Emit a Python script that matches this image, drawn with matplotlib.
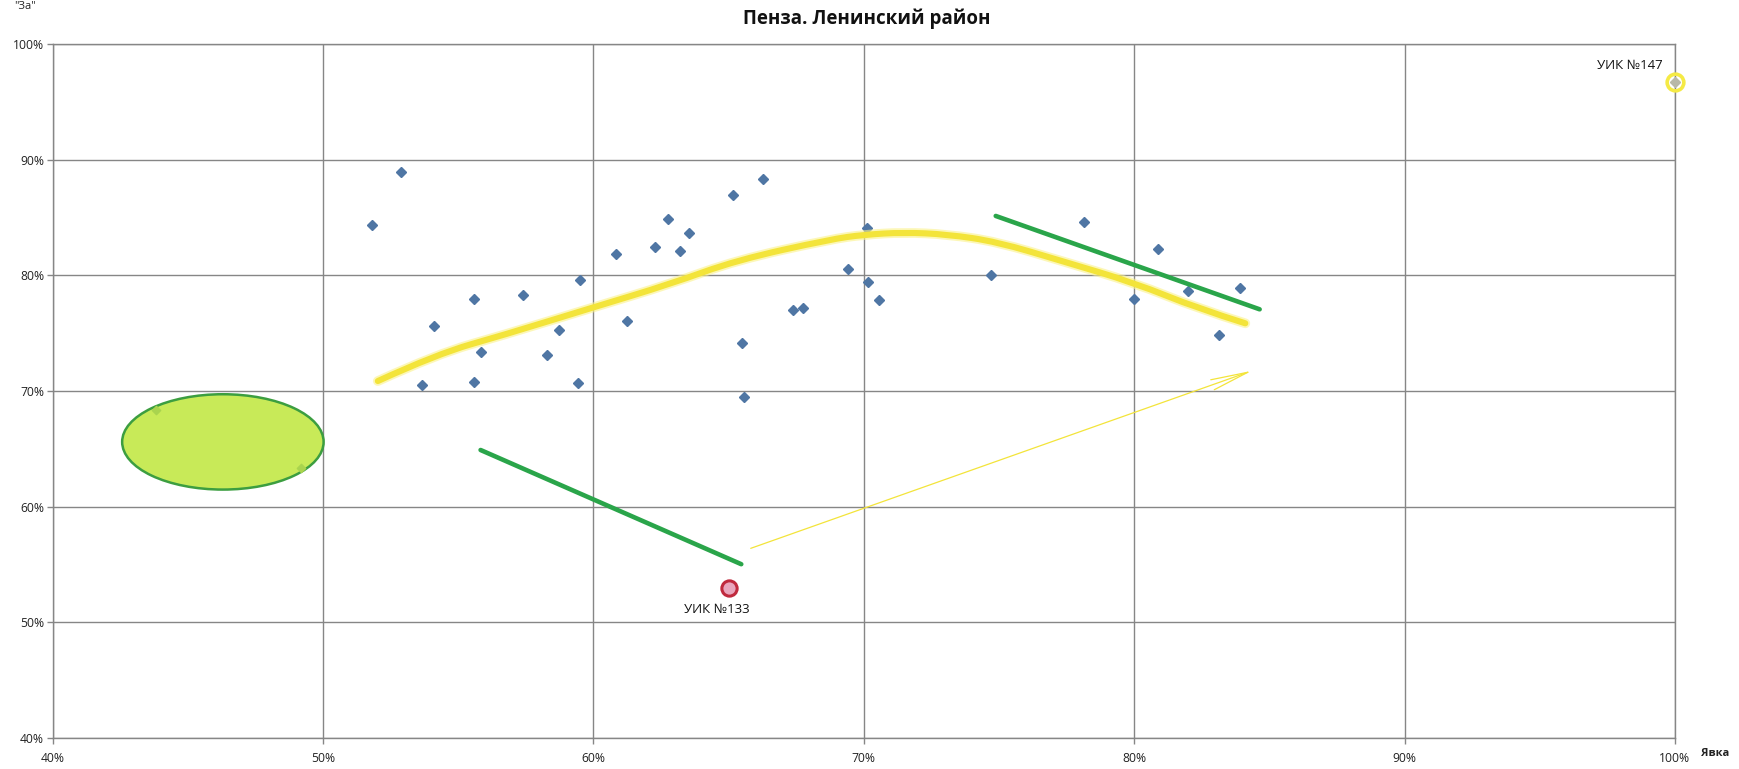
import matplotlib
matplotlib.use("Agg")
import matplotlib.pyplot as plt
from matplotlib.patches import Ellipse, PathPatch
from matplotlib.path import Path
from matplotlib.ticker import FuncFormatter

plt.rcParams['font.family'] = ['Open Sans', 'DejaVu Sans']

# ---- data (turnout %, "for" %) ----
turnout = [51.8, 52.9, 54.1, 53.65, 55.57, 55.57, 55.83, 57.39, 58.27, 58.72,
           59.52, 59.45, 60.85, 61.26, 62.29, 62.75, 63.19, 63.55, 65.16, 65.48,
           65.56, 66.29, 67.39, 67.76, 69.41, 70.12, 70.15, 70.56, 74.71, 78.15,
           80.0, 80.89, 82.0, 83.12, 83.93]
vote_for = [84.35, 88.95, 75.62, 70.49, 77.93, 70.78, 73.4, 78.27, 73.09, 75.25,
            79.57, 70.67, 81.87, 76.02, 82.42, 84.84, 82.07, 83.63, 86.9, 74.18,
            69.46, 88.35, 76.97, 77.15, 80.57, 84.1, 79.46, 77.84, 80.0, 84.6,
            77.93, 82.3, 78.6, 74.81, 78.87]

# points hidden under the ellipse
ellipse_turnout = [43.83, 49.18]
ellipse_for = [68.35, 63.38]

# highlighted polling stations
uik133 = (65.03, 52.96)
uik147 = (100.0, 96.73)

# hand-drawn annotations
curve_x = [52.03, 54.22, 56.68, 60.0, 62.85, 65.31, 68.77, 70.0, 71.48, 73.08,
           74.93, 77.4, 80.0, 82.35, 84.11]
curve_y = [70.86, 73.2, 74.84, 77.23, 79.25, 81.32, 83.11, 83.51, 83.71, 83.54,
           82.9, 81.18, 79.36, 77.14, 75.85]
green1_x = [55.83, 65.47]
green1_y = [64.9, 55.03]
green2_x = [74.88, 84.64]
green2_y = [85.13, 77.06]
arrow_start = (65.82, 56.4)
arrow_end = (84.36, 71.75)
ellipse_center = (46.3, 65.6)
ellipse_size = (7.45, 8.24)

x_ticks = [40, 50, 60, 70, 80, 90, 100]
y_ticks = [40, 50, 60, 70, 80, 90, 100]

title = "Пенза. Ленинский район"

# ---- figure ----
fig = plt.figure(figsize=(17.39, 7.69), dpi=100)
ax = fig.add_axes([0.0302, 0.0402, 0.933, 0.9027])
ax.set_xlim(40, 100)
ax.set_ylim(40, 100)
ax.set_xticks(x_ticks)
ax.set_yticks(y_ticks)
fmt = FuncFormatter(lambda v, p: f"{int(v)}%")
ax.xaxis.set_major_formatter(fmt)
ax.yaxis.set_major_formatter(fmt)
grid_c = '#868686'
ax.grid(True, color=grid_c, linewidth=1.0)
ax.set_axisbelow(True)
for s in ax.spines.values():
    s.set_color(grid_c)
    s.set_linewidth(1.0)
ax.tick_params(axis='both', colors=grid_c, labelcolor='#222222', labelsize=8.7,
               length=4, width=1.0, direction='out')
ax.tick_params(axis='x', pad=6)
ax.tick_params(axis='y', pad=2)

# ellipse
ell = Ellipse(ellipse_center, ellipse_size[0], ellipse_size[1],
              facecolor='#c8ea58', edgecolor='#3c9e40', linewidth=1.8, zorder=2)
ax.add_patch(ell)
ax.scatter(ellipse_turnout, ellipse_for, marker='D', s=18, color='#a9d44e', zorder=3)

# scatter
ax.plot(turnout, vote_for, linestyle='none', marker='D', markersize=4.6,
        color='#4f76a4', zorder=4)

# yellow trend: smooth quadratic-Bezier path through the read control points
pts = list(zip(curve_x, curve_y))
verts = [pts[0]]
codes = [Path.MOVETO]
for i in range(1, len(pts) - 2):
    mid = ((pts[i][0] + pts[i + 1][0]) / 2, (pts[i][1] + pts[i + 1][1]) / 2)
    verts += [pts[i], mid]
    codes += [Path.CURVE3, Path.CURVE3]
verts += [pts[-2], pts[-1]]
codes += [Path.CURVE3, Path.CURVE3]
trend = Path(verts, codes)
ax.add_patch(PathPatch(trend, facecolor='none', edgecolor='#fbf28a', linewidth=7,
                       alpha=0.6, capstyle='round', zorder=5))
ax.add_patch(PathPatch(trend, facecolor='none', edgecolor='#f3e43a', linewidth=4.4,
                       capstyle='round', zorder=5))

# green lines
ax.plot(green1_x, green1_y, color='#2aa54a', linewidth=3.3, solid_capstyle='round', zorder=5)
ax.plot(green2_x, green2_y, color='#2aa54a', linewidth=3.3, solid_capstyle='round', zorder=5)

# thin arrow
ax.annotate('', xy=arrow_end, xytext=arrow_start,
            arrowprops=dict(arrowstyle='->,head_length=1.35,head_width=0.19',
                            color='#f3e43a', lw=0.9, mutation_scale=20,
                            shrinkA=0, shrinkB=0), zorder=5)

# UIK 133
ax.plot([uik133[0]], [uik133[1]], marker='o', markersize=11, markerfacecolor='#e9a6bd',
        markeredgecolor='#c02a3e', markeredgewidth=2.2, zorder=6, clip_on=False)
ax.text(uik133[0] - 0.45, uik133[1] - 1.25, "УИК №133", ha='center', va='top',
        fontsize=9.5, color='#111111')

# UIK 147
ax.plot([uik147[0]], [uik147[1]], marker='o', markersize=12, markerfacecolor='none',
        markeredgecolor='#f5ea45', markeredgewidth=2.6, zorder=6, clip_on=False)
ax.plot([uik147[0]], [uik147[1]], marker='D', markersize=5, color='#b8b8a8',
        zorder=7, clip_on=False)
ax.text(uik147[0] - 0.45, uik147[1] + 0.8, "УИК №147", ha='right', va='bottom',
        fontsize=9.5, color='#111111')

# titles / axis labels
fig.text(0.4985, 0.975, title, ha='center', va='center', fontsize=13.5,
         fontweight='bold', color='#111111')
fig.text(0.008, 0.991, '"За"', ha='left', va='center', fontsize=8, color='#222222')
fig.text(0.978, 0.0205, 'Явка', ha='left', va='center', fontsize=8,
         fontweight='bold', color='#222222')

fig.savefig('out.png', dpi=100, facecolor='white')
